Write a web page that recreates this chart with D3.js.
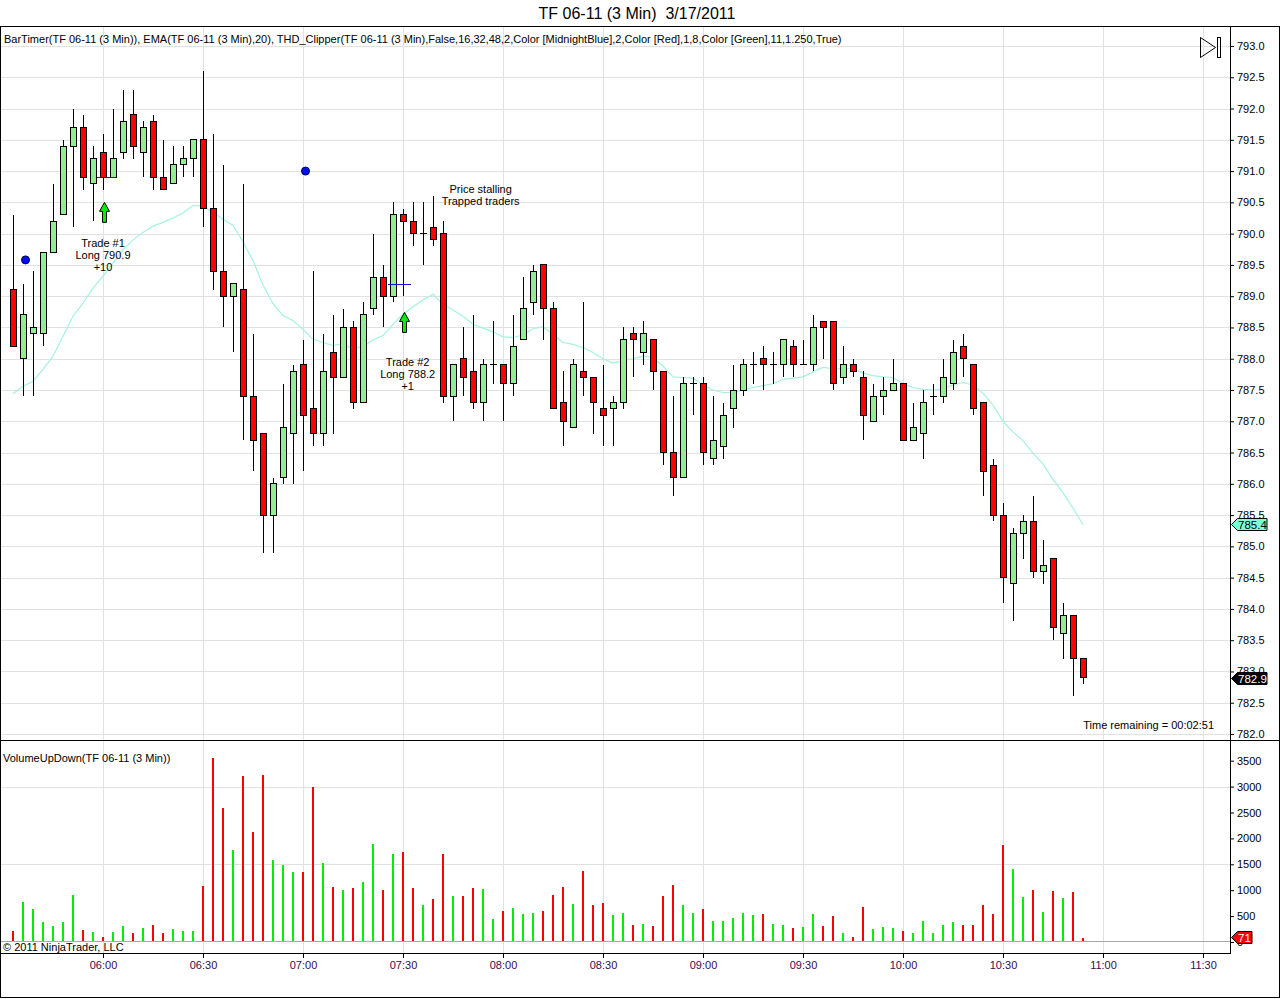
<!DOCTYPE html>
<html><head><meta charset="utf-8">
<script src="https://cdn.jsdelivr.net/npm/d3@7"></script>
<style>
body{margin:0;background:#fff}
svg{display:block;font-family:"Liberation Sans",Arial,sans-serif}
</style></head><body>
<svg id="c" width="1280" height="999"></svg>
<script>
// ---------- DATA ----------
const times = [
 "05:33","05:36","05:39","05:42","05:45","05:48","05:51","05:54","05:57",
 "06:00","06:03","06:06","06:09","06:12","06:15","06:18","06:21","06:24","06:27","06:30","06:33","06:36","06:39","06:42","06:45","06:48","06:51","06:54","06:57",
 "07:00","07:03","07:06","07:09","07:12","07:15","07:18","07:21","07:24","07:27","07:30","07:33","07:36","07:39","07:42","07:45","07:48","07:51","07:54","07:57",
 "08:00","08:03","08:06","08:09","08:12","08:15","08:18","08:21","08:24","08:27","08:30","08:33","08:36","08:39","08:42","08:45","08:48","08:51","08:54","08:57",
 "09:00","09:03","09:06","09:09","09:12","09:15","09:18","09:21","09:24","09:27","09:30","09:33","09:36","09:39","09:42","09:45","09:48","09:51","09:54","09:57",
 "10:00","10:03","10:06","10:09","10:12","10:15","10:18","10:21","10:24","10:27","10:30","10:33","10:36","10:39","10:42","10:45","10:48","10:51","10:54"];
const open = [789.1,788.0,788.4,788.4,789.7,790.3,791.4,791.7,790.8,791.3,790.9,791.3,791.9,791.3,791.8,790.9,790.8,791.1,791.2,791.5,
 790.4,789.4,789.0,789.1,787.4,786.8,785.5,786.1,786.8,787.9,787.2,786.8,788.1,787.7,788.5,787.3,788.8,789.3,789.0,790.3,
 790.2,790.0,790.1,790.0,787.4,788.0,787.8,787.3,787.9,787.9,787.6,788.3,788.9,789.5,788.8,787.3,786.9,787.8,787.7,787.2,
 787.2,787.3,788.4,788.1,788.3,787.8,786.5,786.1,787.6,787.6,786.4,786.6,787.2,787.5,787.9,788.0,787.9,787.9,788.2,787.9,
 787.9,788.6,788.6,787.7,787.9,787.7,787.0,787.4,787.5,787.6,786.7,786.8,787.4,787.4,787.6,788.2,787.9,787.3,786.3,785.5,
 784.4,785.2,785.4,784.6,784.8,783.6,783.9,783.2];
const high = [790.3,789.2,789.4,789.7,790.8,791.5,792.0,791.9,791.4,791.6,792.0,792.3,792.3,791.8,791.9,791.5,791.4,791.4,791.5,792.6,
 791.6,791.1,789.2,790.8,788.4,786.8,786.1,787.6,787.9,788.3,789.4,788.4,788.7,788.8,788.6,788.9,790.0,789.5,790.5,790.4,
 790.5,790.5,790.6,790.2,787.9,788.5,788.7,788.0,788.6,787.9,788.7,789.3,789.5,789.5,788.9,787.8,788.0,788.9,787.7,787.9,
 787.4,788.5,788.5,788.6,788.3,787.8,787.4,787.7,787.7,787.7,787.4,787.3,787.9,788.0,788.1,788.2,788.1,788.3,788.3,788.3,
 788.7,788.6,788.6,788.2,788.0,787.8,787.6,787.7,788.0,787.6,787.3,787.5,787.6,788.0,788.3,788.4,787.9,787.3,786.4,785.7,
 785.3,785.5,785.8,785.1,784.8,784.1,783.9,783.2];
const low = [788.2,787.4,787.4,788.2,789.7,790.3,790.1,790.7,790.2,790.7,790.9,791.2,791.2,790.9,790.7,790.7,790.8,790.9,790.9,790.1,
 789.1,788.5,788.1,786.7,786.2,784.9,784.9,786.0,786.0,786.2,786.6,786.6,786.8,787.7,787.2,787.3,788.7,788.5,788.9,789.0,
 789.8,789.5,789.8,787.3,787.0,787.4,787.2,787.0,787.6,787.0,787.4,788.3,788.7,788.3,787.2,786.6,786.9,787.4,786.8,786.6,
 786.6,787.2,787.7,787.9,787.5,786.3,785.8,786.1,787.1,786.3,786.3,786.4,786.9,787.4,787.6,787.5,787.6,787.7,787.7,787.9,
 787.8,788.0,787.5,787.6,787.7,786.7,787.0,787.1,787.5,786.7,786.7,786.4,787.1,787.3,787.5,787.7,787.1,785.8,785.4,784.1,
 783.8,784.8,784.5,784.4,783.5,783.2,782.6,782.8];
const close = [788.2,788.7,788.5,789.7,790.2,791.4,791.7,790.9,791.2,790.9,791.2,791.8,791.4,791.7,790.9,790.7,791.1,791.2,791.5,790.4,
 789.4,789.0,789.2,787.4,786.7,785.5,786.0,786.9,787.8,787.1,786.8,787.8,787.7,788.5,787.3,788.7,789.3,789.0,790.3,790.2,
 790.0,790.0,789.9,787.4,787.9,787.7,787.3,787.9,787.9,787.6,788.2,788.8,789.4,788.8,787.2,787.0,787.9,787.7,787.3,787.1,
 787.3,788.3,788.3,788.4,787.8,786.5,786.1,787.6,787.6,786.5,786.7,787.1,787.5,787.9,787.9,787.9,787.9,788.3,787.9,787.9,
 788.5,788.5,787.6,787.9,787.8,787.1,787.4,787.5,787.6,786.7,786.9,787.3,787.4,787.7,788.1,788.0,787.2,786.2,785.5,784.5,
 785.2,785.4,784.6,784.7,783.7,783.9,783.2,782.9];
const ema20 = [787.44,787.56,787.64,787.83,788.04,788.36,788.68,788.89,789.13,789.32,789.53,789.74,789.90,790.02,790.12,790.18,790.25,790.33,790.45,790.44,
 790.34,790.23,790.13,789.87,789.57,789.18,788.88,788.69,788.61,788.47,788.31,788.26,788.21,788.24,788.15,788.20,788.30,788.37,788.55,788.71,
 788.83,788.94,789.03,788.87,788.78,788.68,788.55,788.49,788.43,788.35,788.34,788.38,788.48,788.51,788.39,788.26,788.23,788.18,788.10,788.00,
 787.93,787.97,788.00,788.04,788.02,787.88,787.71,787.70,787.69,787.58,787.50,787.46,787.46,787.50,787.54,787.57,787.60,787.67,787.69,787.71,
 787.79,787.86,787.84,787.84,787.84,787.77,787.73,787.71,787.70,787.60,787.54,787.51,787.50,787.52,787.58,787.62,787.58,787.45,787.26,787.00,
 786.83,786.69,786.49,786.32,786.07,785.86,785.61,785.35];
const volume = [220,780,640,390,310,390,910,235,200,100,200,310,180,270,330,180,255,220,220,1090,
 3560,2590,1780,3210,2130,3230,1590,1490,1360,1360,3000,1530,1070,1010,1050,1160,1900,1010,1700,1740,
 1050,720,830,1690,890,890,1050,1030,450,600,660,540,560,600,910,1070,740,1380,720,760,
 530,560,330,350,310,890,1110,720,560,640,410,410,470,560,530,540,350,330,270,290,
 540,310,510,180,100,680,255,290,270,220,180,410,180,330,390,330,330,720,540,1880,
 1400,870,1010,580,990,850,970,71];
const priceTicks = [782.0,782.5,783.0,783.5,784.0,784.5,785.0,785.5,786.0,786.5,787.0,787.5,788.0,788.5,789.0,789.5,790.0,790.5,791.0,791.5,792.0,792.5,793.0];
const volumeTicks = [0,500,1000,1500,2000,2500,3000,3500];
const volumeGrid = [1500,3000];
const timeTicks = ["06:00","06:30","07:00","07:30","08:00","08:30","09:00","09:30","10:00","10:30","11:00","11:30"];
const dots = [{t:"05:36",p:789.58},{t:"07:00",p:791.0}];
const arrows = [{t:"06:00",p:790.5},{t:"07:30",p:788.74}];
const entryLines = [{t0:"05:58:12",t1:"06:03:54",p:790.9},{t0:"07:25:30",t1:"07:32:24",p:789.2}];
const notes = [
 {t:"06:00:00",p:789.85,lines:["Trade #1","Long 790.9","+10"]},
 {t:"07:31:24",p:787.95,lines:["Trade #2","Long 788.2","+1"]},
 {t:"07:53:18",p:790.72,lines:["Price stalling","Trapped traders"]}];
const titleText = "TF 06-11 (3 Min)  3/17/2011";
const headerText = "BarTimer(TF 06-11 (3 Min)), EMA(TF 06-11 (3 Min),20), THD_Clipper(TF 06-11 (3 Min),False,16,32,48,2,Color [MidnightBlue],2,Color [Red],1,8,Color [Green],11,1.250,True)";
const volumeLabel = "VolumeUpDown(TF 06-11 (3 Min))";
const timerText = "Time remaining = 00:02:51";
const copyrightText = "\u00A9 2011 NinjaTrader, LLC";

// ---------- SETUP ----------
const parse = s => d3.timeParse(s.length > 5 ? "%H:%M:%S" : "%H:%M")(s);
const bars = times.map((t,i)=>({t:parse(t),o:open[i],h:high[i],l:low[i],c:close[i],e:ema20[i],v:volume[i]}));
const svg = d3.select("#c");
const FONT = "'Liberation Sans', Arial, sans-serif";
const AXR = 1230; // right axis x
const x = d3.scaleTime().domain([parse("05:30"), parse("11:30")]).range([3, 1203]);
const y = d3.scaleLinear().domain([782, 793]).range([734, 46]);
const yv = d3.scaleLinear().domain([0, 3500]).range([942, 760.7]);
const cxOf = t => Math.round(x(t)) + 0.5;
const GRID = "#e1e1e1";

svg.append("rect").attr("width",1280).attr("height",999).attr("fill","#fff");

// title
svg.append("text").attr("x",637).attr("y",19).attr("text-anchor","middle")
  .attr("font-size",16).style("white-space","pre").attr("fill","#000").text(titleText);

// ---------- GRIDS ----------
const grid = svg.append("g").attr("shape-rendering","crispEdges").attr("stroke",GRID).attr("stroke-width",1);
grid.selectAll(".hp").data(priceTicks).join("line")
  .attr("x1",1).attr("x2",AXR).attr("y1",d=>Math.round(y(d))+0.5).attr("y2",d=>Math.round(y(d))+0.5);
grid.selectAll(".vp").data(timeTicks).join("line")
  .attr("x1",d=>cxOf(parse(d))).attr("x2",d=>cxOf(parse(d))).attr("y1",27).attr("y2",953);
grid.selectAll(".hv").data(volumeGrid).join("line")
  .attr("x1",1).attr("x2",AXR).attr("y1",d=>Math.round(yv(d))+0.5).attr("y2",d=>Math.round(yv(d))+0.5);

// ---------- EMA ----------
svg.append("path").datum(bars)
  .attr("d", d3.line().x(d=>x(d.t)).y(d=>y(d.e)))
  .attr("fill","none").attr("stroke","#a3f2df").attr("stroke-width",1.2);

// ---------- CANDLES ----------
const cg = svg.append("g").attr("shape-rendering","crispEdges");
const candle = cg.selectAll("g").data(bars).join("g");
candle.append("line")
  .attr("x1",d=>cxOf(d.t)).attr("x2",d=>cxOf(d.t))
  .attr("y1",d=>y(d.h)).attr("y2",d=>y(d.l)).attr("stroke","#000");
candle.filter(d=>d.o!==d.c).append("rect")
  .attr("x",d=>cxOf(d.t)-3).attr("width",6)
  .attr("y",d=>y(Math.max(d.o,d.c))).attr("height",d=>Math.abs(y(d.o)-y(d.c)))
  .attr("fill",d=>d.c>d.o?"#90ee90":"#ff0000").attr("stroke","#000");
candle.filter(d=>d.o===d.c).append("line")
  .attr("x1",d=>cxOf(d.t)-3.5).attr("x2",d=>cxOf(d.t)+3.5)
  .attr("y1",d=>y(d.o)).attr("y2",d=>y(d.o)).attr("stroke","#000");

// ---------- MARKERS ----------
svg.selectAll(".entry").data(entryLines).join("line")
  .attr("x1",d=>x(parse(d.t0))).attr("x2",d=>x(parse(d.t1)))
  .attr("y1",d=>Math.round(y(d.p))+0.5).attr("y2",d=>Math.round(y(d.p))+0.5)
  .attr("stroke","#1010e0").attr("stroke-width",1);
svg.selectAll(".dot").data(dots).join("circle")
  .attr("cx",d=>cxOf(parse(d.t))+2).attr("cy",d=>y(d.p)).attr("r",4)
  .attr("fill","#0010f0").attr("stroke","#000050").attr("stroke-width",1);
svg.selectAll(".arrow").data(arrows).join("path")
  .attr("transform",d=>`translate(${cxOf(parse(d.t))+1},${y(d.p)})`)
  .attr("d","M0,0 L5,9 L2,9 L2,20 L-2,20 L-2,9 L-5,9 Z")
  .attr("fill","#00ee00").attr("stroke","#000").attr("stroke-width",1);

// notes
const ng = svg.append("g").attr("font-size",11).attr("fill","#000").attr("text-anchor","middle");
notes.forEach(n=>{
  n.lines.forEach((s,i)=>{
    ng.append("text").attr("x",x(parse(n.t))).attr("y",y(n.p)+i*12).attr("dy","0.36em").text(s);
  });
});

// ---------- VOLUME ----------
svg.append("g").attr("shape-rendering","crispEdges").selectAll("rect").data(bars).join("rect")
  .attr("x",d=>Math.round(x(d.t))-1).attr("width",2)
  .attr("y",d=>yv(d.v)).attr("height",d=>yv(0)-yv(d.v))
  .attr("fill",d=>d.c>=d.o?"#00ee00":"#ff0000");
svg.append("line").attr("x1",1).attr("x2",AXR).attr("y1",941.5).attr("y2",941.5)
  .attr("stroke","#a8a8a8").attr("shape-rendering","crispEdges");

// ---------- TEXTS ----------
svg.append("text").attr("x",4).attr("y",39).attr("dy","0.36em").attr("font-size",11).attr("fill","#000").text(headerText);
svg.append("text").attr("x",3).attr("y",758).attr("dy","0.36em").attr("font-size",11).attr("fill","#000").text(volumeLabel);
svg.append("text").attr("x",1214).attr("y",725).attr("dy","0.36em").attr("text-anchor","end").attr("font-size",11).attr("fill","#000").text(timerText);
svg.append("text").attr("x",3).attr("y",947).attr("dy","0.36em").attr("font-size",11).attr("fill","#000").text(copyrightText);

// play icon
svg.append("path").attr("d","M1200.5,37.5 L1215.5,47.5 L1200.5,57.5 Z").attr("fill","none").attr("stroke","#000");
svg.append("rect").attr("x",1217.5).attr("y",37.5).attr("width",3).attr("height",20).attr("fill","none").attr("stroke","#000");

// ---------- AXES ----------
function styleAxis(g){
  g.attr("font-size",11).attr("font-family",FONT);
  g.select(".domain").remove();
  g.selectAll("line").attr("stroke","#000");
  g.selectAll("text").attr("fill","#000");
}
svg.append("g").attr("transform",`translate(${AXR},0)`)
  .call(d3.axisRight(y).tickValues(priceTicks).tickFormat(d3.format(".1f")).tickSize(4).tickPadding(3))
  .call(styleAxis);
svg.append("g").attr("transform",`translate(${AXR},0)`)
  .call(d3.axisRight(yv).tickValues(volumeTicks).tickFormat(d3.format("d")).tickSize(4).tickPadding(3))
  .call(styleAxis);
svg.append("g").attr("transform","translate(0,953)")
  .call(d3.axisBottom(x).tickValues(timeTicks.map(parse)).tickFormat(d3.timeFormat("%H:%M")).tickSize(5).tickPadding(3))
  .call(styleAxis)
  .call(g=>g.selectAll("text").attr("fill","#3a0a50"));

// frame lines
const fr = svg.append("g").attr("stroke","#000").attr("shape-rendering","crispEdges");
fr.append("rect").attr("x",0.5).attr("y",26.5).attr("width",1279).attr("height",971).attr("fill","none");
fr.append("line").attr("x1",0).attr("x2",1280).attr("y1",740.5).attr("y2",740.5);
fr.append("line").attr("x1",0).attr("x2",AXR).attr("y1",953.5).attr("y2",953.5);
fr.append("line").attr("x1",AXR+0.5).attr("x2",AXR+0.5).attr("y1",27).attr("y2",953.5);

// ---------- VALUE TAGS ----------
function tag(yy, txt, fill, color, w){
  const g = svg.append("g");
  g.append("path").attr("d",`M${AXR+1.5},${yy} L${AXR+7.5},${yy-6} L${AXR+w},${yy-6} L${AXR+w},${yy+6} L${AXR+7.5},${yy+6} Z`)
    .attr("fill",fill).attr("stroke","#000").attr("stroke-width",1);
  g.append("text").attr("x",AXR+8).attr("y",yy).attr("dy","0.36em").attr("font-size",11.5).attr("fill",color).text(txt);
}
const last = bars[bars.length-1];
tag(Math.round(y(last.e))+0.5, d3.format(".1f")(last.e), "#7fffd4", "#000", 37);
tag(Math.round(y(last.c))+0.5, d3.format(".1f")(last.c), "#000", "#fff", 37);
tag(Math.round(yv(last.v))-0.5, d3.format("d")(last.v), "#ff0000", "#fff", 22);
</script></body></html>
